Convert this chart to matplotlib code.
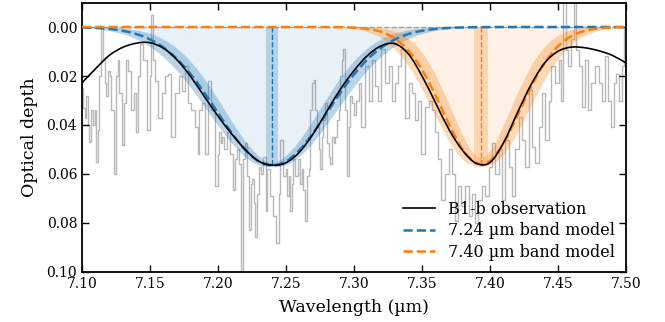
import matplotlib
matplotlib.use("Agg")
import matplotlib.pyplot as plt
from matplotlib.path import Path
from matplotlib.patches import PathPatch
from matplotlib.lines import Line2D
import numpy as np

plt.rcParams['font.family'] = ['DejaVu Serif']
plt.rcParams['mathtext.fontset'] = 'dejavuserif'

# ---------------- data ----------------
obs_wavelength = [
    7.1000, 7.1015, 7.1022, 7.1037, 7.1051, 7.1059, 7.1074, 7.1088, 7.1096, 7.1110,
    7.1125, 7.1132, 7.1147, 7.1162, 7.1169, 7.1184, 7.1199, 7.1206, 7.1221, 7.1243,
    7.1257, 7.1272, 7.1279, 7.1309, 7.1316, 7.1331, 7.1346, 7.1368, 7.1390, 7.1404,
    7.1419, 7.1441, 7.1463, 7.1493, 7.1500, 7.1515, 7.1522, 7.1551, 7.1574, 7.1596,
    7.1625, 7.1647, 7.1669, 7.1699, 7.1721, 7.1743, 7.1772, 7.1794, 7.1816, 7.1846,
    7.1853, 7.1868, 7.1890, 7.1919, 7.1941, 7.1963, 7.1993, 7.2000, 7.2015, 7.2022,
    7.2037, 7.2051, 7.2074, 7.2096, 7.2125, 7.2132, 7.2147, 7.2162, 7.2176, 7.2191,
    7.2206, 7.2221, 7.2235, 7.2243, 7.2257, 7.2272, 7.2279, 7.2294, 7.2309, 7.2316,
    7.2346, 7.2353, 7.2368, 7.2390, 7.2419, 7.2441, 7.2456, 7.2463, 7.2493, 7.2500,
    7.2515, 7.2522, 7.2537, 7.2551, 7.2559, 7.2574, 7.2596, 7.2610, 7.2625, 7.2632,
    7.2647, 7.2662, 7.2669, 7.2684, 7.2699, 7.2706, 7.2721, 7.2735, 7.2743, 7.2757,
    7.2772, 7.2779, 7.2794, 7.2809, 7.2816, 7.2831, 7.2846, 7.2853, 7.2868, 7.2882,
    7.2890, 7.2904, 7.2919, 7.2926, 7.2941, 7.2956, 7.2963, 7.2978, 7.2993, 7.3000,
    7.3022, 7.3044, 7.3066, 7.3096, 7.3118, 7.3140, 7.3169, 7.3191, 7.3213, 7.3243,
    7.3265, 7.3287, 7.3316, 7.3338, 7.3360, 7.3390, 7.3412, 7.3434, 7.3463, 7.3485,
    7.3507, 7.3537, 7.3559, 7.3581, 7.3610, 7.3632, 7.3654, 7.3684, 7.3706, 7.3728,
    7.3757, 7.3779, 7.3801, 7.3831, 7.3853, 7.3875, 7.3904, 7.3926, 7.3949, 7.3978,
    7.4000, 7.4022, 7.4051, 7.4074, 7.4096, 7.4125, 7.4147, 7.4169, 7.4199, 7.4221,
    7.4243, 7.4272, 7.4294, 7.4316, 7.4346, 7.4368, 7.4390, 7.4419, 7.4441, 7.4463,
    7.4493, 7.4515, 7.4529, 7.4551, 7.4566, 7.4588, 7.4603, 7.4625, 7.4640, 7.4662,
    7.4684, 7.4713, 7.4735, 7.4757, 7.4787, 7.4809, 7.4831, 7.4860, 7.4882, 7.4897,
    7.4919, 7.4934, 7.4956, 7.4978, 7.4993,
]
obs_depth = [
    0.025, 0.033, 0.037, 0.028, 0.040, 0.047, 0.034, 0.040, 0.034, 0.055,
    0.042, 0.020, 0.0005, 0.0135, 0.023, 0.028, 0.018, 0.020, 0.034, 0.060,
    0.020, 0.0135, 0.027, 0.048, 0.031, 0.0135, 0.018, 0.034, 0.027, 0.043,
    0.020, 0.007, 0.0135, 0.042, 0.020, -0.005, 0.0135, 0.022, 0.037, 0.027,
    0.020, 0.019, 0.045, 0.027, 0.020, 0.026, 0.016, 0.031, 0.034, 0.041,
    0.052, 0.034, 0.031, 0.052, 0.022, 0.034, 0.065, 0.052, 0.043, 0.0475,
    0.045, 0.050, 0.043, 0.052, 0.0665, 0.054, 0.050, 0.056, 0.105, 0.054,
    0.0475, 0.061, 0.083, 0.064, 0.062, 0.072, 0.0856, 0.068, 0.057, 0.060,
    0.053, 0.075, 0.058, 0.069, 0.077, 0.088, 0.068, 0.046, 0.061, 0.058,
    0.069, 0.061, 0.075, 0.064, 0.054, 0.061, 0.054, 0.064, 0.058, 0.0665,
    0.079, 0.061, 0.058, 0.034, 0.023, 0.0216, 0.034, 0.041, 0.050, 0.058,
    0.045, 0.038, 0.031, 0.0475, 0.053, 0.056, 0.045, 0.0475, 0.045, 0.038,
    0.034, 0.020, 0.0135, 0.009, 0.034, 0.061, 0.041, 0.028, 0.031, 0.036,
    0.030, 0.023, 0.041, 0.016, 0.030, 0.0135, 0.024, 0.030, 0.009, 0.023,
    0.016, 0.030, 0.023, 0.016, 0.009, 0.037, 0.023, 0.027, 0.038, 0.030,
    0.052, 0.0325, 0.030, 0.034, 0.043, 0.054, 0.0706, 0.060, 0.050, 0.060,
    0.079, 0.065, 0.073, 0.065, 0.077, 0.068, 0.080, 0.0706, 0.065, 0.069,
    0.057, 0.0475, 0.060, 0.050, 0.0706, 0.046, 0.057, 0.069, 0.050, 0.0366,
    0.046, 0.057, 0.0257, 0.049, 0.0557, 0.0407, 0.027, 0.046, 0.030, 0.016,
    0.023, 0.0135, 0.030, -0.012, 0.0094, 0.016, 0.005, -0.012, 0.0094, 0.016,
    0.0325, 0.0135, 0.034, 0.023, 0.016, 0.023, 0.030, 0.012, 0.030, 0.0407,
    0.023, 0.019, 0.030, 0.016, 0.001,
]

# model grid (µm)
model_wavelength = [round(7.10 + 0.01 * i, 2) for i in range(41)]

# B1-b smooth fit
fit_depth = [
    0.0228, 0.0170, 0.0116, 0.0083, 0.0066, 0.0064, 0.0087, 0.0135, 0.0203, 0.0284,
    0.0364, 0.0436, 0.0500, 0.0548, 0.0564, 0.0554, 0.0510, 0.0436, 0.0344, 0.0254,
    0.0178, 0.0116, 0.0077, 0.0068, 0.0110, 0.0200, 0.0310, 0.0420, 0.0505, 0.0557,
    0.0553, 0.0472, 0.0352, 0.0237, 0.0148, 0.0099, 0.0082, 0.0085, 0.0097, 0.0116,
    0.0147,
]

# 7.24 µm band model, with its lower/upper envelope
band1_depth = [
    0.00017, 0.00037, 0.00078, 0.00155, 0.00289, 0.00508, 0.00842, 0.01315, 0.01936, 0.02686,
    0.03510, 0.04323, 0.05016, 0.05484, 0.05650, 0.05484, 0.05016, 0.04323, 0.03510, 0.02686,
    0.01936, 0.01315, 0.00842, 0.00508, 0.00289, 0.00155, 0.00078, 0.00037, 0.00017, 0.00007,
    0.00003, 0.0, 0.0, 0.0, 0.0, 0.0, 0.0, 0.0, 0.0, 0.0,
    0.0,
]
band1_lo = [
    0.00005, 0.00012, 0.00030, 0.00067, 0.00142, 0.00279, 0.00513, 0.00882, 0.01412, 0.02110,
    0.02942, 0.03827, 0.04646, 0.05263, 0.05560, 0.05263, 0.04646, 0.03827, 0.02942, 0.02110,
    0.01412, 0.00882, 0.00513, 0.00279, 0.00142, 0.00067, 0.00030, 0.00012, 0.00005, 0.0,
    0.0, 0.0, 0.0, 0.0, 0.0, 0.0, 0.0, 0.0, 0.0, 0.0,
    0.0,
]
band1_hi = [
    0.00045, 0.00089, 0.00167, 0.00297, 0.00503, 0.00810, 0.01237, 0.01794, 0.02472, 0.03234,
    0.04017, 0.04738, 0.05309, 0.05648, 0.05720, 0.05648, 0.05309, 0.04738, 0.04017, 0.03234,
    0.02472, 0.01794, 0.01237, 0.00810, 0.00503, 0.00297, 0.00167, 0.00089, 0.00045, 0.00022,
    0.00010, 0.00004, 0.0, 0.0, 0.0, 0.0, 0.0, 0.0, 0.0, 0.0,
    0.0,
]
band1_center = 7.2397
band1_center_range = [7.2353, 7.2441]
band1_peak = 0.0567

# 7.40 µm band model, with its lower/upper envelope
band2_depth = [
    0.0, 0.0, 0.0, 0.0, 0.0, 0.0, 0.0, 0.0, 0.0, 0.0,
    0.0, 0.0, 0.0, 0.0, 0.0, 0.0, 0.0, 0.0, 0.00002, 0.00008,
    0.00026, 0.00077, 0.00202, 0.00468, 0.00962, 0.01747, 0.02807, 0.03986, 0.05006, 0.05558,
    0.05456, 0.04736, 0.03634, 0.02466, 0.01479, 0.00785, 0.00368, 0.00153, 0.00056, 0.00018,
    0.00005,
]
band2_lo = [
    0.0, 0.0, 0.0, 0.0, 0.0, 0.0, 0.0, 0.0, 0.0, 0.0,
    0.0, 0.0, 0.0, 0.0, 0.0, 0.0, 0.0, 0.0, 0.0, 0.0,
    0.00005, 0.00019, 0.00065, 0.00190, 0.00479, 0.01041, 0.01951, 0.03155, 0.04401, 0.05295,
    0.05088, 0.04046, 0.02774, 0.01641, 0.00837, 0.00368, 0.00140, 0.00046, 0.00013, 0.00003,
    0.00001,
]
band2_hi = [
    0.0, 0.0, 0.0, 0.0, 0.0, 0.0, 0.0, 0.0, 0.0, 0.0,
    0.0, 0.0, 0.0, 0.0, 0.0, 0.0, 0.0, 0.00003, 0.00011, 0.00033,
    0.00088, 0.00212, 0.00460, 0.00900, 0.01588, 0.02522, 0.03612, 0.04661, 0.05419, 0.05680,
    0.05662, 0.05236, 0.04365, 0.03279, 0.02219, 0.01354, 0.00744, 0.00369, 0.00165, 0.00066,
    0.00024,
]
band2_center = 7.3934
band2_center_range = [7.3884, 7.3984]
band2_peak = 0.0562

labels = ["B1-b observation", "7.24 µm band model", "7.40 µm band model"]


# ---------------- helpers: smooth (Catmull-Rom) rendering through the points ----------------
def smooth_segments(x, y):
    p = np.column_stack([np.asarray(x, float), np.asarray(y, float)])
    n = len(p)
    verts, codes = [], []
    for i in range(n - 1):
        p0 = p[i - 1] if i > 0 else p[i]
        p3 = p[i + 2] if i + 2 < n else p[i + 1]
        c1 = p[i] + (p[i + 1] - p0) / 6.0
        c2 = p[i + 1] - (p3 - p[i]) / 6.0
        verts += [tuple(c1), tuple(c2), tuple(p[i + 1])]
        codes += [Path.CURVE4] * 3
    return p, verts, codes


def smooth_line(ax, x, y, **kw):
    p, v, c = smooth_segments(x, y)
    path = Path([tuple(p[0])] + v, [Path.MOVETO] + c)
    patch = PathPatch(path, fill=False, capstyle='butt', **kw)
    ax.add_patch(patch)
    return patch


def smooth_fill(ax, x, ylo, yhi, **kw):
    p1, v1, c1 = smooth_segments(x, yhi)
    p2, v2, c2 = smooth_segments(x[::-1], ylo[::-1])
    verts = [tuple(p1[0])] + v1 + [tuple(p2[0])] + v2 + [tuple(p1[0])]
    codes = [Path.MOVETO] + c1 + [Path.LINETO] + c2 + [Path.CLOSEPOLY]
    patch = PathPatch(Path(verts, codes), **kw)
    ax.add_patch(patch)
    return patch


# ---------------- plot ----------------
fig = plt.figure(figsize=(6.65, 3.22), dpi=100)
ax = fig.add_axes([0.1233, 0.1553, 0.8181, 0.8354])

c_blue = '#1f77b4'
c_orange = '#ff7f0e'
zeros = [0.0] * len(model_wavelength)

ax.plot(obs_wavelength, obs_depth, drawstyle='steps-mid', color='#b8b8b8', lw=1.0, zorder=1)
ax.axhline(0.0, color='#a8a8a8', ls='--', lw=1.0, zorder=1.5)

# light fills under model curves
smooth_fill(ax, model_wavelength, zeros, band1_depth, facecolor=c_blue, alpha=0.1, lw=0, zorder=2)
smooth_fill(ax, model_wavelength, zeros, band2_depth, facecolor=c_orange, alpha=0.1, lw=0, zorder=2)

# uncertainty envelopes
smooth_fill(ax, model_wavelength, band1_lo, band1_hi, facecolor=c_blue, alpha=0.3, lw=0, zorder=3)
smooth_fill(ax, model_wavelength, band2_lo, band2_hi, facecolor=c_orange, alpha=0.3, lw=0, zorder=3)

# center uncertainty
ax.fill_between(band1_center_range, 0, band1_peak, color=c_blue, alpha=0.25, lw=0, zorder=3)
ax.fill_between(band2_center_range, 0, band2_peak, color=c_orange, alpha=0.25, lw=0, zorder=3)
ax.vlines(band1_center, 0, band1_peak, colors=c_blue, linestyles='--', lw=1.0, zorder=4)
ax.vlines(band2_center, 0, band2_peak, colors=c_orange, linestyles='--', lw=1.0, zorder=4)

smooth_line(ax, model_wavelength, band1_depth, edgecolor=c_blue, linestyle='--', lw=1.8, zorder=5)
smooth_line(ax, model_wavelength, band2_depth, edgecolor=c_orange, linestyle='--', lw=1.8, zorder=5)
smooth_line(ax, model_wavelength, fit_depth, edgecolor='black', lw=1.2, zorder=6)

ax.set_xlim(7.10, 7.50)
ax.set_ylim(0.10, -0.0098)
ax.set_xticks([7.10, 7.15, 7.20, 7.25, 7.30, 7.35, 7.40, 7.45, 7.50])
ax.set_xticklabels(['7.10', '7.15', '7.20', '7.25', '7.30', '7.35', '7.40', '7.45', '7.50'])
ax.set_yticks([0.0, 0.02, 0.04, 0.06, 0.08, 0.10])
ax.set_yticklabels(['0.00', '0.02', '0.04', '0.06', '0.08', '0.10'])
ax.tick_params(direction='in', top=True, right=True, labelsize=10, length=5, width=1.0)
for s in ax.spines.values():
    s.set_linewidth(1.3)

ax.set_xlabel('Wavelength (µm)', fontsize=12.5, labelpad=6)
ax.set_ylabel('Optical depth', fontsize=12.5, labelpad=6)

h1 = Line2D([], [], color='black', lw=1.2)
h2 = Line2D([], [], color=c_blue, ls='--', lw=1.8)
h3 = Line2D([], [], color=c_orange, ls='--', lw=1.8)
ax.legend([h1, h2, h3], labels, loc='lower right', frameon=False, fontsize=11.5,
          handlelength=2.0, borderaxespad=0.3, labelspacing=0.28)

fig.savefig('out.png', dpi=100)
